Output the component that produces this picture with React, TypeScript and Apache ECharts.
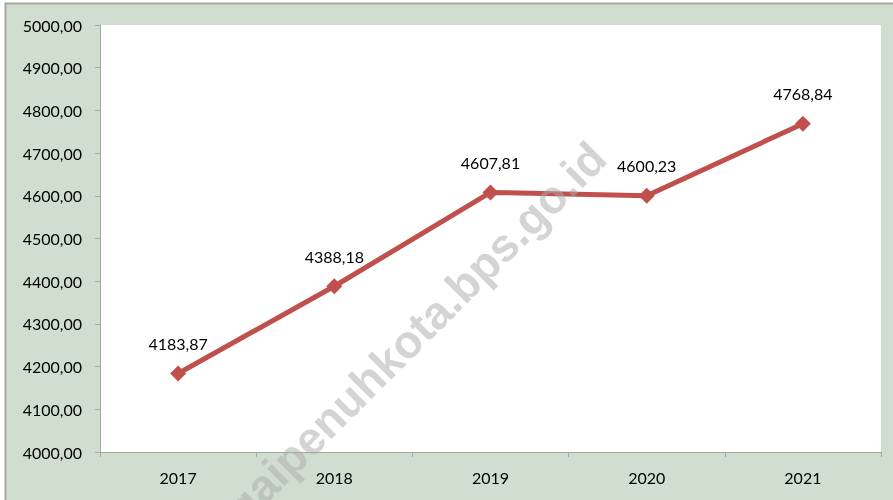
import React, { useEffect, useRef } from "react";
import * as echarts from "echarts";

const years = ["2017", "2018", "2019", "2020", "2021"];
const values = [4183.87, 4388.18, 4607.81, 4600.23, 4768.84];
const yMin = 4000;
const yMax = 5000;
const yStep = 100;
const watermark = "sungaipenuhkota.bps.go.id";

const fmt = (v: number) => v.toFixed(2).replace(".", ",");

export default function App() {
  const ref = useRef<HTMLDivElement>(null);
  useEffect(() => {
    if (!ref.current) return;
    const chart = echarts.init(ref.current, undefined, { renderer: "svg" });
    chart.setOption({
      animation: false,
      backgroundColor: "transparent",
      textStyle: { fontFamily: "Lato" },
      grid: { left: 100, right: 12, top: 25, bottom: 48, backgroundColor: "#ffffff", show: true, borderWidth: 0 },
      graphic: [
        {
          type: "rect",
          z: -10,
          silent: true,
          shape: { x: 5.5, y: 3.5, width: 900, height: 510 },
          style: { fill: "#cfdecf", stroke: "#a6a6a6", lineWidth: 2 },
        },
        {
          type: "text",
          z: 100,
          silent: true,
          x: 598,
          y: 150,
          rotation: (45 * Math.PI) / 180,
          style: {
            text: watermark,
            fontFamily: "Liberation Sans",
            fontWeight: "bold",
            fontSize: 46,
            fill: "rgba(170,170,170,0.5)",
            align: "right",
            verticalAlign: "middle",
          },
        },
      ],
      xAxis: {
        type: "category",
        data: years,
        boundaryGap: true,
        axisLine: { lineStyle: { color: "#a6a6a6", width: 1 } },
        axisTick: { show: true, length: 5, alignWithLabel: false, lineStyle: { color: "#a6a6a6" } },
        axisLabel: { color: "#000", fontSize: 16, margin: 17 },
      },
      yAxis: {
        type: "value",
        min: yMin,
        max: yMax,
        interval: yStep,
        splitLine: { show: false },
        axisLine: { show: true, lineStyle: { color: "#a6a6a6", width: 1 } },
        axisTick: { show: true, length: 5, lineStyle: { color: "#a6a6a6" } },
        axisLabel: { color: "#000", fontSize: 16, margin: 18, formatter: (v: number) => fmt(v) },
      },
      series: [
        {
          type: "line",
          data: values,
          symbol: "diamond",
          symbolSize: 16,
          lineStyle: { color: "#c0504d", width: 5 },
          itemStyle: { color: "#c0504d" },
          label: {
            show: true,
            position: "top",
            distance: 14,
            color: "#000",
            fontSize: 16,
            formatter: (p: any) => fmt(p.value),
          },
        },
      ],
    });
    return () => chart.dispose();
  }, []);
  return (
    <div
      ref={ref}
      style={{ position: "fixed", left: 0, top: 0, width: 893, height: 500 }}
    />
  );
}
